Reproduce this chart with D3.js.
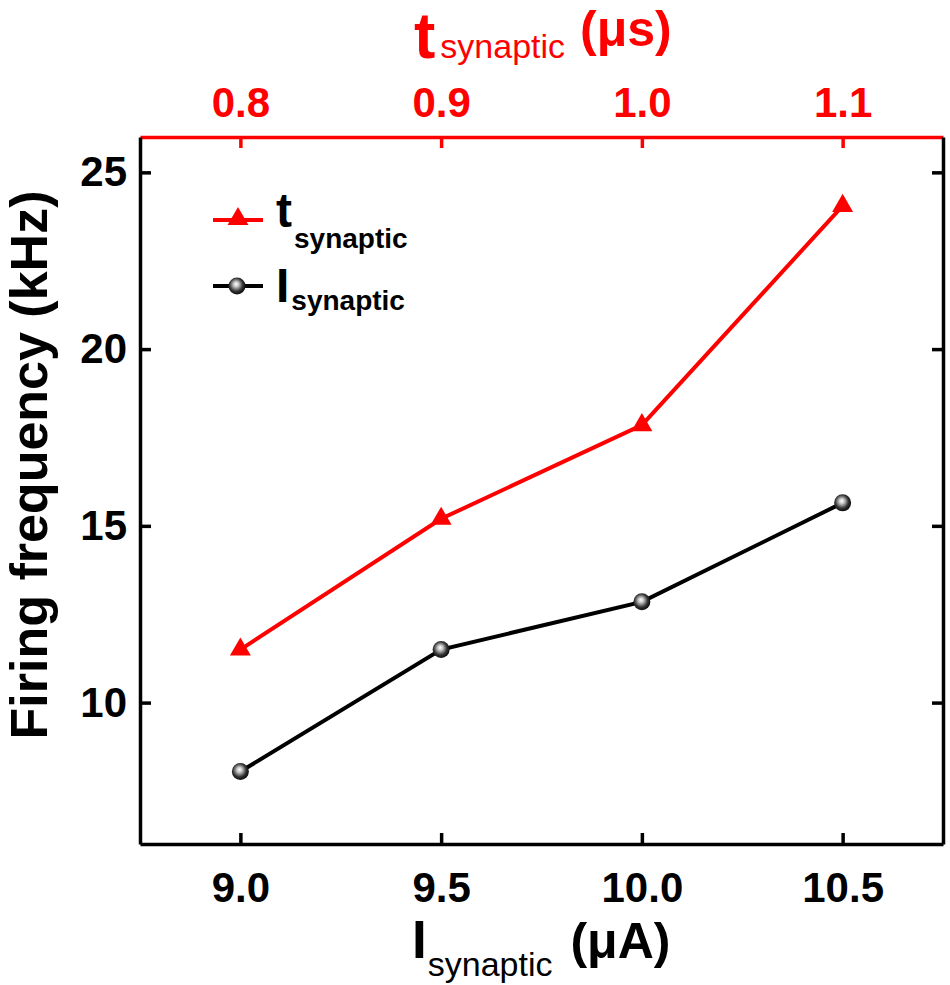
<!DOCTYPE html>
<html>
<head>
<meta charset="utf-8">
<script src="https://cdn.jsdelivr.net/npm/d3@7"></script>
<style>
  body { margin: 0; background: #fff; }
  text { font-family: "Liberation Sans", Arial, sans-serif; }
</style>
</head>
<body>
<div id="chart"></div>
<script>
// Data
var iSynaptic = [9.0, 9.5, 10.0, 10.5];      // bottom axis, uA
var tSynaptic = [0.8, 0.9, 1.0, 1.1];        // top axis, us
var freqVsT = [11.5, 15.2, 17.85, 24.05];    // red series, kHz
var freqVsI = [8.05, 11.5, 12.85, 15.65];    // black series, kHz
var yTicks = [10, 15, 20, 25];
var red = "#ff0000";

var w = 950;
var h = 985;
var plotL = 140, plotR = 943, plotT = 137, plotB = 844;

var svg = d3.select("#chart")
  .append("svg")
  .attr("width", w)
  .attr("height", h);

// scales
var xScale = d3.scaleLinear().domain([8.75, 10.75]).range([plotL, plotR]);
var xTop = d3.scaleLinear().domain([0.75, 1.15]).range([plotL, plotR]);
var yScale = d3.scaleLinear().domain([6, 26]).range([plotB, plotT]);

var fmt = d3.format(".1f");

// axes (ticks point inward)
var gBottom = svg.append("g")
  .attr("transform", "translate(0," + plotB + ")")
  .call(d3.axisBottom(xScale).tickValues(iSynaptic).tickFormat(fmt)
    .tickSize(-11).tickSizeOuter(0).tickPadding(28));

var gTop = svg.append("g")
  .attr("transform", "translate(0," + plotT + ")")
  .call(d3.axisTop(xTop).tickValues(tSynaptic).tickFormat(fmt)
    .tickSize(-11).tickSizeOuter(0).tickPadding(20));

var gLeft = svg.append("g")
  .attr("transform", "translate(" + plotL + ",0)")
  .call(d3.axisLeft(yScale).tickValues(yTicks).tickFormat(d3.format("d"))
    .tickSize(-11).tickSizeOuter(0).tickPadding(13));

var gRight = svg.append("g")
  .attr("transform", "translate(" + plotR + ",0)")
  .call(d3.axisRight(yScale).tickValues(yTicks).tickFormat("")
    .tickSize(-11).tickSizeOuter(0));

[gBottom, gLeft, gRight].forEach(function(g) {
  g.selectAll("path, line").attr("stroke", "#000").attr("stroke-width", 3.5);
});
gTop.selectAll("path, line").attr("stroke", red).attr("stroke-width", 3.5);

[gBottom, gTop, gLeft].forEach(function(g) {
  g.selectAll("text")
    .style("font-family", "'Liberation Sans', Arial, sans-serif")
    .style("font-weight", "bold")
    .style("font-size", "42px");
});
gBottom.selectAll("text").attr("fill", "#000");
gLeft.selectAll("text").attr("fill", "#000");
gTop.selectAll("text").attr("fill", red);

// gradient for the ball markers
var grad = svg.append("defs").append("radialGradient")
  .attr("id", "ball")
  .attr("cx", "45%").attr("cy", "45%").attr("r", "60%")
  .attr("fx", "45%").attr("fy", "38%");
grad.append("stop").attr("offset", "0%").attr("stop-color", "#ffffff");
grad.append("stop").attr("offset", "25%").attr("stop-color", "#c8c8c8");
grad.append("stop").attr("offset", "65%").attr("stop-color", "#333");
grad.append("stop").attr("offset", "100%").attr("stop-color", "#000");

var tri = d3.symbol().type(d3.symbolTriangle).size(190);

// red series: frequency vs t_synaptic (top axis)
var redLine = d3.line()
  .x(function(d, i) { return xTop(tSynaptic[i]); })
  .y(function(d) { return yScale(d); });

svg.append("path")
  .datum(freqVsT)
  .attr("d", redLine)
  .attr("fill", "none")
  .attr("stroke", red)
  .attr("stroke-width", 4);

svg.selectAll(".tri")
  .data(freqVsT)
  .enter()
  .append("path")
  .attr("class", "tri")
  .attr("d", tri)
  .attr("transform", function(d, i) {
    return "translate(" + xTop(tSynaptic[i]) + "," + yScale(d) + ")";
  })
  .attr("fill", red);

// black series: frequency vs I_synaptic (bottom axis)
var blackLine = d3.line()
  .x(function(d, i) { return xScale(iSynaptic[i]); })
  .y(function(d) { return yScale(d); });

svg.append("path")
  .datum(freqVsI)
  .attr("d", blackLine)
  .attr("fill", "none")
  .attr("stroke", "#000")
  .attr("stroke-width", 4);

svg.selectAll(".ball")
  .data(freqVsI)
  .enter()
  .append("circle")
  .attr("class", "ball")
  .attr("cx", function(d, i) { return xScale(iSynaptic[i]); })
  .attr("cy", function(d) { return yScale(d); })
  .attr("r", 8.5)
  .attr("fill", "url(#ball)");

// y-axis title
svg.append("text")
  .attr("transform", "translate(47,465) rotate(-90)")
  .attr("text-anchor", "middle")
  .attr("font-weight", "bold")
  .style("font-size", "52px")
  .text("Firing frequency (kHz)");

// bottom axis title
var bt = svg.append("text")
  .attr("x", 412)
  .attr("y", 958)
  .attr("font-weight", "bold")
  .style("font-size", "53px");
bt.append("tspan").text("I");
bt.append("tspan").attr("dx", 1).attr("dy", 18)
  .attr("font-weight", "normal").style("font-size", "34px").text("synaptic");
bt.append("tspan").attr("dx", 18).attr("dy", -18)
  .style("font-size", "50px").text("(μA)");

// top axis title
var tt = svg.append("text")
  .attr("x", 414)
  .attr("y", 58)
  .attr("fill", red)
  .attr("font-weight", "bold")
  .style("font-size", "64px");
tt.append("tspan").text("t");
tt.append("tspan").attr("dx", 5).attr("dy", 0)
  .attr("font-weight", "normal").style("font-size", "34px").text("synaptic");
tt.append("tspan").attr("dx", 15).attr("dy", -12)
  .style("font-size", "50px").text("(μs)");

// legend
var legend = svg.append("g");

legend.append("line")
  .attr("x1", 213).attr("x2", 263).attr("y1", 220).attr("y2", 220)
  .attr("stroke", red).attr("stroke-width", 4);
legend.append("path")
  .attr("d", tri)
  .attr("transform", "translate(238,219)")
  .attr("fill", red);
var l1 = legend.append("text")
  .attr("x", 276).attr("y", 227)
  .attr("font-weight", "bold").style("font-size", "48px");
l1.append("tspan").text("t");
l1.append("tspan").attr("dx", 2).attr("dy", 21)
  .style("font-size", "28px").text("synaptic");

legend.append("line")
  .attr("x1", 213).attr("x2", 263).attr("y1", 286).attr("y2", 286)
  .attr("stroke", "#000").attr("stroke-width", 4);
legend.append("circle")
  .attr("cx", 237).attr("cy", 286).attr("r", 8.5)
  .attr("fill", "url(#ball)");
var l2 = legend.append("text")
  .attr("x", 276).attr("y", 302)
  .attr("font-weight", "bold").style("font-size", "48px");
l2.append("tspan").text("I");
l2.append("tspan").attr("dx", 2).attr("dy", 8)
  .style("font-size", "28px").text("synaptic");
</script>
</body>
</html>
